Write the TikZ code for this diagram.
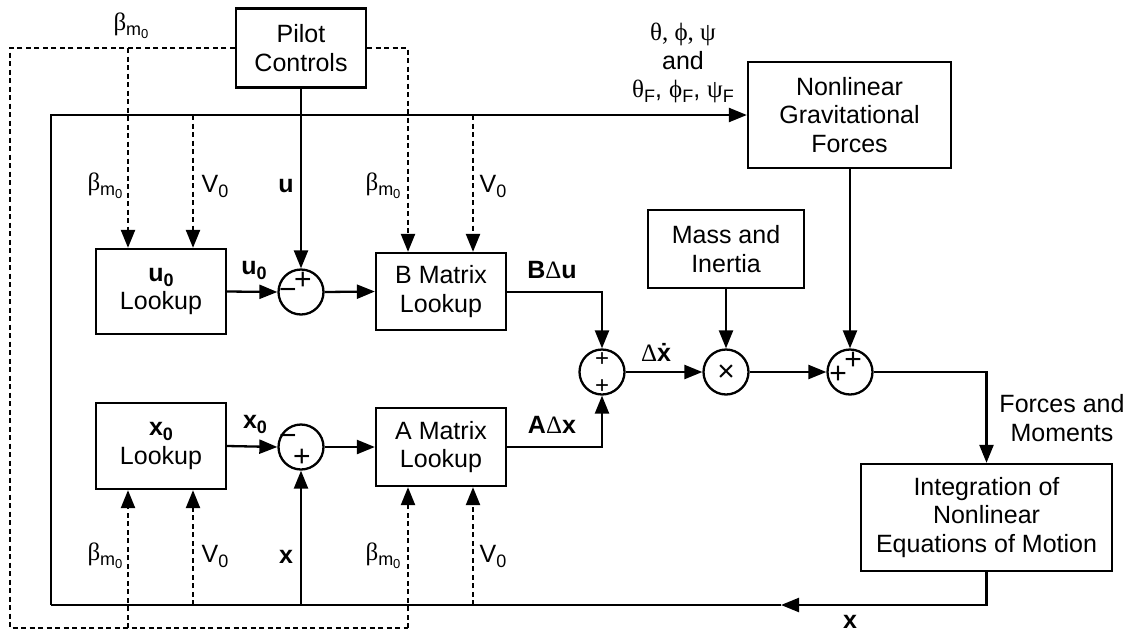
\documentclass[tikz,border=0pt]{standalone}
\usepackage{fontspec}
\setmainfont{Liberation Sans}
\newfontfamily\grk{Liberation Serif}
\usetikzlibrary{arrows.meta}
\newcommand\lsub[2][18]{\lower5pt\hbox{\fontsize{#1}{#1}\selectfont #2}}
\newcommand\bmz{{\grk β}\lsub[18]{m\lower3.5pt\hbox{\fontsize{13}{13}\selectfont 0}}}
\begin{document}
\begin{tikzpicture}[x=1pt,y=-1pt,
  blk/.style={draw, line width=2.3pt, fill=white, align=center, inner sep=0pt, font=\fontsize{25}{28.5}\selectfont},
  sumc/.style={circle, draw, line width=2.3pt, minimum size=45pt, inner sep=0pt},
  ln/.style={line width=2.3pt},
  conn/.style={line width=2.3pt, -{Triangle[length=18pt,width=14pt]}},
  dsh/.style={line width=2.3pt, dash pattern=on 5pt off 3.5pt},
  dconn/.style={dsh, -{Triangle[length=18pt,width=14pt]}},
  lbl/.style={font=\fontsize{25}{28.5}\selectfont, inner sep=0pt, align=center},
  blbl/.style={font=\fontsize{25}{28.5}\selectfont\bfseries, inner sep=0pt},
  sgn/.style={font=\fontsize{30}{30}\selectfont, inner sep=0pt}]
\useasboundingbox (0,0) rectangle (1131,632);
% blocks
\node[blk, minimum width=130pt, minimum height=79pt] (pilot) at (301,48) {Pilot\\Controls};
\node[blk, minimum width=130pt, minimum height=85pt] (u0) at (161,291.5) {\textbf{u\lsub{0}}\\Lookup};
\node[blk, minimum width=130pt, minimum height=77pt] (B) at (441,291.5) {B Matrix\\Lookup};
\node[blk, minimum width=130pt, minimum height=86pt] (x0) at (161,446) {\textbf{x\lsub{0}}\\Lookup};
\node[blk, minimum width=130pt, minimum height=78pt] (A) at (441,447) {A Matrix\\Lookup};
\node[blk, minimum width=156pt, minimum height=78pt] (mass) at (726,249) {Mass and\\Inertia};
\node[blk, minimum width=203pt, minimum height=106pt] (ngf) at (849.5,115) {Nonlinear\\Gravitational\\Forces};
\node[blk, minimum width=251pt, minimum height=107pt] (int) at (986.5,517.5) {Integration of\\Nonlinear\\Equations of Motion};
% junctions
\node[sumc] (s1) at (301,292) {};
\node[sumc] (s2) at (301,447) {};
\node[sumc] (s3) at (602,372) {};
\node[sumc] (mul) at (726,372) {};
\node[sumc] (s4) at (850,372) {};
\node[sgn] at (303,281) {+};
\node[sgn] at (288,294) {−};
\node[sgn] at (288,440) {−};
\node[sgn] at (302,458) {+};
\node[sgn, font=\fontsize{24}{24}\selectfont] at (602,360) {+};
\node[sgn, font=\fontsize{24}{24}\selectfont] at (602,387) {+};
\node[sgn] at (726,373) {×};
\node[sgn] at (853,361) {+};
\node[sgn] at (838,375) {+};
% coordinates
\coordinate (dTL) at (10,48);
\coordinate (dTR) at (408,48);
\coordinate (dBL) at (10,628);
\coordinate (dBR) at (408,628);
\coordinate (bU1) at (128,48);
\coordinate (bD1) at (128,628);
\coordinate (tl) at (51,115);
\coordinate (bl) at (51,605);
\coordinate (vU1) at (193,115);
\coordinate (vU2) at (473,115);
\coordinate (vD1) at (193,605);
\coordinate (vD2) at (473,605);
\coordinate (xa) at (781,605);
\coordinate (xs) at (301,605);
\coordinate (bc) at (602,292);
\coordinate (ac) at (602,447);
\coordinate (fc) at (986.5,372);
% dashed
\draw[dsh] (pilot.west) -- (dTL) -- (dBL) -- (dBR);
\draw[dconn] (pilot.east) -- (dTR) -- (dTR |- B.north);
\draw[dconn] (bU1) -- (bU1 |- u0.north);
\draw[dconn] (vU1) -- (vU1 |- u0.north);
\draw[dconn] (vU2) -- (vU2 |- B.north);
\draw[dconn] (bD1) -- (bD1 |- x0.south);
\draw[dconn] (vD1) -- (vD1 |- x0.south);
\draw[dconn] (dBR) -- (dBR |- A.south);
\draw[dconn] (vD2) -- (vD2 |- A.south);
% solid
\draw[conn] (bl) -- (tl) -- (ngf.west);
\draw[conn] (int.south) |- (xa);
\draw[ln] (xa) -- (bl);
\draw[conn] (xs) -- (s2.south);
\draw[conn] (pilot.south) -- (s1.north);
\draw[conn] (u0.east) -- (s1.west);
\draw[conn] (s1.east) -- (B.west);
\draw[conn] (x0.east) -- (s2.west);
\draw[conn] (s2.east) -- (A.west);
\draw[conn] (B.east |- bc) -- (bc) -- (s3.north);
\draw[conn] (A.east |- ac) -- (ac) -- (s3.south);
\draw[conn] (s3.east) -- (mul.west);
\draw[conn] (mass.south) -- (mul.north);
\draw[conn] (mul.east) -- (s4.west);
\draw[conn] (ngf.south -| s4) -- (s4.north);
\draw[conn] (s4.east) -- (fc) -- (int.north);
% labels
\node[lbl] at (131,26) {\bmz};
\node[lbl] at (105,186) {\bmz};
\node[lbl] at (215,186) {V\lsub{0}};
\node[blbl] at (286,186) {u};
\node[lbl] at (383,186) {\bmz};
\node[lbl] at (493,186) {V\lsub{0}};
\node[lbl] at (105,556) {\bmz};
\node[lbl] at (215,556) {V\lsub{0}};
\node[blbl] at (286,557) {x};
\node[lbl] at (383,556) {\bmz};
\node[lbl] at (493,556) {V\lsub{0}};
\node[blbl] at (254,270) {u\lsub{0}};
\node[blbl] at (255,424) {x\lsub{0}};
\node[lbl] at (552,270) {\textbf{B}{\grk Δ}\textbf{u}};
\node[lbl] at (552,425) {\textbf{A}{\grk Δ}\textbf{x}};
\node[lbl] at (656,352) {{\grk Δ}\textbf{\.{x}}};
\node[lbl] at (683,63) {{\grk θ, ϕ, ψ}\\and\\{\grk θ}\lsub{F}, {\grk ϕ}\lsub{F}, {\grk ψ}\lsub{F}};
\node[lbl] at (1062,418) {Forces and\\Moments};
\node[blbl] at (850,622) {x};
\end{tikzpicture}
\end{document}
